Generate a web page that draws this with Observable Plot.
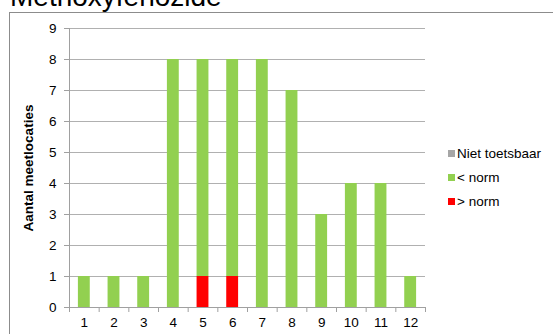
<!DOCTYPE html>
<html>
<head>
<meta charset="utf-8">
<script src="https://cdn.jsdelivr.net/npm/d3@7"></script>
<script src="https://cdn.jsdelivr.net/npm/@observablehq/plot@0.6"></script>
<style>
  html, body { margin: 0; padding: 0; background: #fff; overflow: hidden; }
  #wrap { position: relative; width: 553px; height: 334px; overflow: hidden; font-family: "Liberation Sans", Arial, sans-serif; }
  #frame { position: absolute; left: 9px; top: 12px; width: 600px; height: 400px; border-left: 1px solid #8c8c8c; border-top: 1px solid #8c8c8c; }
  #title { position: absolute; left: 10px; top: -17px; font-size: 28px; line-height: 28px; color: #000; white-space: nowrap; }
  #ytitle { position: absolute; left: 28px; top: 168px; transform: translate(-50%, -50%) rotate(-90deg); font-size: 13.5px; font-weight: bold; white-space: nowrap; }
  #chart { position: absolute; left: 0; top: 0; }
  .leg { position: absolute; left: 448px; font-size: 13.5px; white-space: nowrap; display: flex; align-items: center; }
  .leg span.sw { display: inline-block; width: 7px; height: 7px; margin-right: 2px; }
</style>
</head>
<body>
<div id="wrap">
  <div id="frame"></div>
  <div id="title"></div>
  <div id="chart"></div>
  <div id="ytitle"></div>
  <div id="legend"></div>
</div>
<script>
const titleText = "Methoxyfenozide";
const yTitle = "Aantal meetlocaties";
const categories = [1, 2, 3, 4, 5, 6, 7, 8, 9, 10, 11, 12];
const aboveNorm = [0, 0, 0, 0, 1, 1, 0, 0, 0, 0, 0, 0];
const belowNorm = [1, 1, 1, 8, 7, 7, 8, 7, 3, 4, 4, 1];
const notTestable = [0, 0, 0, 0, 0, 0, 0, 0, 0, 0, 0, 0];
const seriesNames = ["> norm", "< norm", "Niet toetsbaar"];
const seriesColors = ["#ff0000", "#92d050", "#a6a6a6"];
const legendOrder = ["Niet toetsbaar", "< norm", "> norm"];
const yTicks = [0, 1, 2, 3, 4, 5, 6, 7, 8, 9];

const seriesValues = [aboveNorm, belowNorm, notTestable];
const halfBar = 0.2;

// manual stack (bottom to top: > norm, < norm, Niet toetsbaar)
const data = [];
categories.forEach((c, i) => {
  let base = 0;
  seriesNames.forEach((s, k) => {
    const v = seriesValues[k][i];
    data.push({cat: c, series: s, y1: base, y2: base + v, value: v});
    base += v;
  });
});
const stacked = data.filter(d => d.value > 0);
const boundaries = [...categories.map(c => c - 0.5), categories[categories.length - 1] + 0.5];

const gray = "#a0a0a0";
const chart = Plot.plot({
  width: 553,
  height: 334,
  marginLeft: 69,
  marginRight: 128,
  marginTop: 28,
  marginBottom: 27,
  style: {fontFamily: "'Liberation Sans', Arial, sans-serif", fontSize: "13.5px", background: "transparent", color: "#000"},
  x: {domain: [boundaries[0], boundaries[boundaries.length - 1]], label: null},
  y: {domain: [0, 9], label: null},
  color: {domain: seriesNames, range: seriesColors},
  marks: [
    Plot.gridY(yTicks.filter(t => t > 0), {stroke: "#b0b0b0", strokeOpacity: 1}),
    Plot.rect(stacked, {x1: d => d.cat - halfBar, x2: d => d.cat + halfBar, y1: "y1", y2: "y2", fill: "series"}),
    Plot.ruleY([0], {stroke: gray}),
    Plot.ruleX([boundaries[0]], {stroke: gray}),
    Plot.axisY({ticks: yTicks, tickSize: 5, tickPadding: 8, stroke: gray, fill: "#000", label: null, tickFormat: d => String(d)}),
    Plot.axisX({ticks: boundaries, tickSize: 5, stroke: gray, tickFormat: () => "", label: null}),
    Plot.axisX({ticks: categories, tickSize: 0, tickPadding: 10, fill: "#000", label: null, tickFormat: d => String(d)})
  ]
});
document.getElementById("chart").appendChild(chart);
document.getElementById("title").textContent = titleText;
document.getElementById("ytitle").textContent = yTitle;

const legendTops = {"Niet toetsbaar": 153, "< norm": 177, "> norm": 201};
const leg = document.getElementById("legend");
legendOrder.forEach(name => {
  const div = document.createElement("div");
  div.className = "leg";
  div.style.top = (legendTops[name] - 8) + "px";
  div.style.height = "16px";
  const sw = document.createElement("span");
  sw.className = "sw";
  sw.style.background = seriesColors[seriesNames.indexOf(name)];
  const t = document.createElement("span");
  t.textContent = name;
  div.appendChild(sw);
  div.appendChild(t);
  leg.appendChild(div);
});
</script>
</body>
</html>
